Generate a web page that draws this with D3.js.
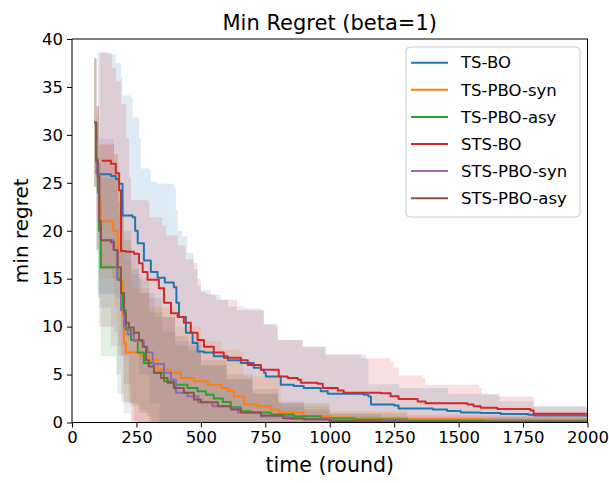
<!DOCTYPE html>
<html>
<head>
<meta charset="utf-8">
<script src="https://cdn.jsdelivr.net/npm/d3@7"></script>
<style>
  body { margin: 0; background: #fff; }
  svg { display: block; }
  text { font-family: "DejaVu Sans", sans-serif; fill: #000; }
</style>
</head>
<body>
<svg id="chart" width="609" height="483"></svg>
<script>
// ---- data -------------------------------------------------------------
const seriesNames = ["TS-BO", "TS-PBO-syn", "TS-PBO-asy", "STS-BO", "STS-PBO-syn", "STS-PBO-asy"];
const seriesColors = ["#1f77b4", "#ff7f0e", "#2ca02c", "#d62728", "#9467bd", "#8c564b"];
const xTicks = [0, 250, 500, 750, 1000, 1250, 1500, 1750, 2000];
const yTicks = [0, 5, 10, 15, 20, 25, 30, 35, 40];

// [round, value] steps; each value holds until the next round listed
const tsBoMean = [[105,25.9],[151,25.7],[170,25.4],[182,24.9],[196,21.6],[235,21.4],[245,20.0],[255,18.7],[279,16.9],[306,15.7],[332,15.1],[360,14.6],[395,14.1],[405,12.5],[415,11.0],[442,9.35],[468,8.3],[487,7.4],[512,7.3],[550,6.9],[605,6.5],[655,6.2],[705,5.7],[733,5.5],[745,5.2],[752,4.8],[783,4.8],[810,3.95],[860,3.8],[899,3.6],[965,3.25],[992,3.0],[1132,2.9],[1150,2.7],[1160,1.87],[1250,1.77],[1267,1.45],[1400,1.35],[1456,1.2],[1508,1.04],[1585,1.0],[1663,0.88],[1770,0.8],[1791,0.72],[2000,0.68]];
const tsBoUpper = [[100,38.6],[151,38.4],[170,37.5],[190,36],[196,34.1],[229,33.9],[235,31.8],[260,29.7],[267,26.5],[298,26.3],[306,25.1],[332,24.9],[395,24.5],[403,22.1],[410,20],[427,19.4],[448,17.7],[473,16],[487,14.2],[500,13.8],[539,13.3],[577,12.8],[605,12.1],[667,11.9],[733,11.7],[744,10.3],[798,8.6],[895,7.9],[984,7.1],[1140,6.6],[1150,4.0],[1270,3.6],[1460,3.0],[1660,2.2],[1790,1.7],[2000,1.6]];
const tsBoLower = [[100,13.4],[170,13],[196,9],[235,9],[260,5],[300,2],[340,0],[2000,0]];

const tsPboSynMean = [[86,31.3],[95,27],[105,23],[112,21],[160,20],[177,16],[186,14.7],[196,11],[202,8.3],[209,7.3],[255,7.3],[267,6.9],[298,6.5],[332,5.5],[384,5.2],[423,4.65],[473,4.3],[527,3.95],[580,3.6],[605,3.3],[628,2.7],[667,1.87],[721,1.7],[771,1.35],[802,1.04],[899,0.66],[1004,0.52],[1093,0.42],[1300,0.33],[1600,0.28],[2000,0.25]];
const tsPboSynUpper = [[86,38],[95,33],[105,29],[163,28],[177,24],[200,17],[230,14],[300,12],[400,10],[500,8.5],[580,7.6],[655,7.3],[665,4.8],[800,4.5],[810,1.7],[1000,1.2],[1300,0.8],[2000,0.6]];
const tsPboSynLower = [[86,24.6],[95,21],[105,15],[163,12],[177,8],[200,2],[230,0],[2000,0]];

const tsPboAsyMean = [[86,31.3],[94,27.5],[100,24],[105,20],[112,16.2],[163,16.2],[177,14.9],[190,13.5],[196,11.7],[209,9.7],[229,8.6],[255,7.3],[279,6.2],[318,5.2],[357,4.3],[395,3.95],[448,3.6],[487,3.25],[520,2.9],[550,2.5],[585,2.15],[616,1.6],[655,1.17],[694,1.04],[771,0.83],[860,0.66],[965,0.42],[1100,0.3],[1300,0.18],[1600,0.12],[2000,0.1]];
const tsPboAsyUpper = [[86,38],[95,32],[105,27],[112,25.5],[163,25.5],[177,23],[200,19],[230,16],[260,13.5],[300,11.5],[350,9.5],[400,8],[500,6],[600,4.5],[700,3],[800,2],[1000,1],[1300,0.5],[2000,0.3]];
const tsPboAsyLower = [[86,24.6],[95,18],[100,13],[112,6.9],[163,6.9],[170,5],[190,2.2],[229,1.7],[265,1.35],[290,0.66],[310,0.1],[330,0],[2000,0]];

const stsBoMean = [[115,27.3],[140,27.3],[151,27.0],[170,26.0],[183,24.2],[190,17.9],[209,17.8],[240,17.6],[260,16.6],[274,15.7],[293,14.9],[337,14.0],[357,12.5],[384,11.4],[410,11.0],[434,10.4],[461,9.35],[487,8.6],[512,7.9],[550,7.3],[589,6.75],[655,6.5],[682,6.0],[733,5.5],[802,4.8],[837,4.65],[876,4.45],[888,4.15],[953,4.05],[973,3.6],[1031,3.35],[1054,3.1],[1198,3.05],[1236,2.75],[1267,2.45],[1341,2.2],[1372,2.0],[1534,1.87],[1558,1.7],[1585,1.55],[1650,1.4],[1779,1.25],[1791,0.9],[2000,0.85]];
const stsBoUpper = [[108,38.6],[140,38.4],[155,37],[170,35.6],[190,33.2],[210,29.7],[221,25.6],[229,23.2],[295,23.0],[300,21.4],[350,20.5],[365,19.5],[410,18.5],[440,17],[470,16.6],[487,15],[500,13.6],[520,13.4],[560,12.8],[640,11.7],[744,10.2],[790,10.0],[798,8.6],[895,7.9],[984,7.1],[1120,6.7],[1236,6.4],[1248,5.7],[1267,4.9],[1360,4.65],[1370,3.9],[1580,3.6],[1590,2.9],[1650,2.7],[1790,2.6],[1792,1.65],[2000,1.63]];
const stsBoLower = [[108,16],[155,15],[190,7],[221,2],[240,0],[2000,0]];

const stsPboSynMean = [[86,31.3],[95,26],[105,21],[112,19],[160,18],[175,15],[190,11.7],[202,10],[216,9.2],[240,8.5],[279,7.9],[293,7.3],[313,6.1],[357,5.2],[384,4.45],[403,3.1],[448,2.75],[490,2.1],[545,1.7],[616,1.5],[644,1.04],[733,0.66],[850,0.38],[1000,0.18],[1300,0.08],[2000,0.05]];
const stsPboSynUpper = [[86,38],[95,33],[105,29.6],[151,29.6],[163,27],[180,22],[200,18],[230,15.5],[270,13.5],[320,11],[400,8.5],[500,6],[600,4.5],[700,3],[800,2],[900,1.2],[1000,0.7],[2000,0.2]];
const stsPboSynLower = [[86,24.6],[95,18],[105,12],[151,8],[175,3],[200,1],[230,0],[2000,0]];

const stsPboAsyMean = [[86,31.3],[93,27.3],[100,25.6],[106,21],[112,19],[151,18.8],[163,18],[177,16.2],[190,13.5],[202,11.4],[209,10.4],[221,9.9],[240,9.35],[260,8.6],[274,7.9],[287,6.5],[298,5.85],[318,5.2],[345,4.65],[371,4.15],[395,3.6],[434,3.1],[473,2.4],[500,2.1],[566,1.7],[616,1.35],[655,1.04],[733,0.73],[820,0.45],[900,0.3],[1000,0.15],[1200,0.08],[2000,0.05]];
const stsPboAsyUpper = [[86,38],[95,33],[105,29],[163,28],[177,24],[200,20],[230,17.5],[260,15],[300,13],[350,11],[400,9],[450,7.5],[500,6.5],[600,5],[700,3.5],[800,2.2],[900,1.4],[1000,0.9],[1200,0.5],[2000,0.3]];
const stsPboAsyLower = [[86,24.6],[95,18],[105,10],[163,9.5],[177,7],[200,4],[230,2],[260,1],[300,0],[2000,0]];

const seriesData = [
  { mean: tsBoMean,       upper: tsBoUpper,       lower: tsBoLower },
  { mean: tsPboSynMean,   upper: tsPboSynUpper,   lower: tsPboSynLower },
  { mean: tsPboAsyMean,   upper: tsPboAsyUpper,   lower: tsPboAsyLower },
  { mean: stsBoMean,      upper: stsBoUpper,      lower: stsBoLower },
  { mean: stsPboSynMean,  upper: stsPboSynUpper,  lower: stsPboSynLower },
  { mean: stsPboAsyMean,  upper: stsPboAsyUpper,  lower: stsPboAsyLower }
];

// ---- layout -------------------------------------------------------------
const margin = { left: 72, right: 21.5, top: 39, bottom: 60.5 };
const W = 609, H = 483;
const svg = d3.select("#chart");
const x = d3.scaleLinear().domain([0, 2000]).range([margin.left, W - margin.right]);
const y = d3.scaleLinear().domain([0, 40]).range([H - margin.bottom, margin.top]);

svg.append("defs").append("clipPath").attr("id", "plot-clip")
  .append("rect")
  .attr("x", x(0)).attr("y", y(40))
  .attr("width", x(2000) - x(0)).attr("height", y(0) - y(40));

const plot = svg.append("g").attr("clip-path", "url(#plot-clip)");

// value of a step series at a given round
function stepAt(steps, r) {
  let v = null;
  for (const [rr, vv] of steps) { if (rr <= r) v = vv; else break; }
  return v;
}

// shaded spread bands
const area = d3.area()
  .x(d => x(d.r)).y0(d => y(d.lo)).y1(d => y(d.hi))
  .curve(d3.curveStepAfter);

seriesData.forEach((s, i) => {
  const start = Math.max(s.upper[0][0], s.lower[0][0]);
  const rounds = Array.from(new Set([...s.upper.map(d => d[0]), ...s.lower.map(d => d[0])]))
    .filter(r => r >= start).sort((a, b) => a - b);
  const pts = rounds.map(r => ({ r, lo: stepAt(s.lower, r), hi: stepAt(s.upper, r) }));
  plot.append("path")
    .attr("d", area(pts))
    .attr("fill", seriesColors[i])
    .attr("fill-opacity", 0.15)
    .attr("stroke", "none");
});

// mean curves
const line = d3.line().x(d => x(d[0])).y(d => y(d[1])).curve(d3.curveStepAfter);
seriesData.forEach((s, i) => {
  plot.append("path")
    .attr("d", line(s.mean))
    .attr("fill", "none")
    .attr("stroke", seriesColors[i])
    .attr("stroke-width", 2)
    .attr("stroke-linejoin", "round");
});

// ---- axes -------------------------------------------------------------
const xAxis = svg.append("g")
  .attr("transform", `translate(0,${y(0)})`)
  .call(d3.axisBottom(x).tickValues(xTicks).tickFormat(d3.format("d")).tickSize(5).tickPadding(4));
const yAxis = svg.append("g")
  .attr("transform", `translate(${x(0)},0)`)
  .call(d3.axisLeft(y).tickValues(yTicks).tickFormat(d3.format("d")).tickSize(5).tickPadding(4));

[xAxis, yAxis].forEach(g => {
  g.select(".domain").remove();
  g.selectAll(".tick line").attr("stroke", "#000").attr("stroke-width", 1);
  g.selectAll(".tick text").attr("font-size", 16.5).attr("font-family", "DejaVu Sans").attr("fill", "#000");
});

// frame
svg.append("rect")
  .attr("x", x(0)).attr("y", y(40))
  .attr("width", x(2000) - x(0)).attr("height", y(0) - y(40))
  .attr("fill", "none").attr("stroke", "#000").attr("stroke-width", 1);

// ---- titles -------------------------------------------------------------
svg.append("text")
  .attr("x", (x(0) + x(2000)) / 2).attr("y", 30)
  .attr("text-anchor", "middle").attr("font-size", 21)
  .text("Min Regret (beta=1)");

svg.append("text")
  .attr("x", (x(0) + x(2000)) / 2).attr("y", 472)
  .attr("text-anchor", "middle").attr("font-size", 20.5)
  .text("time (round)");

svg.append("text")
  .attr("transform", `translate(28,${(y(0) + y(40)) / 2}) rotate(-90)`)
  .attr("text-anchor", "middle").attr("font-size", 20)
  .text("min regret");

// ---- legend -------------------------------------------------------------
const legend = svg.append("g");
legend.append("rect")
  .attr("x", 406).attr("y", 47).attr("width", 174).attr("height", 170)
  .attr("rx", 4).attr("fill", "#fff").attr("fill-opacity", 0.8)
  .attr("stroke", "#cccccc").attr("stroke-width", 1);
seriesNames.forEach((name, i) => {
  const cy = 62.7 + i * 27.1;
  legend.append("line")
    .attr("x1", 411).attr("x2", 448).attr("y1", cy).attr("y2", cy)
    .attr("stroke", seriesColors[i]).attr("stroke-width", 2);
  legend.append("text")
    .attr("x", 461).attr("y", cy).attr("dy", "0.35em")
    .attr("font-size", 16.5)
    .text(name);
});
</script>
</body>
</html>
